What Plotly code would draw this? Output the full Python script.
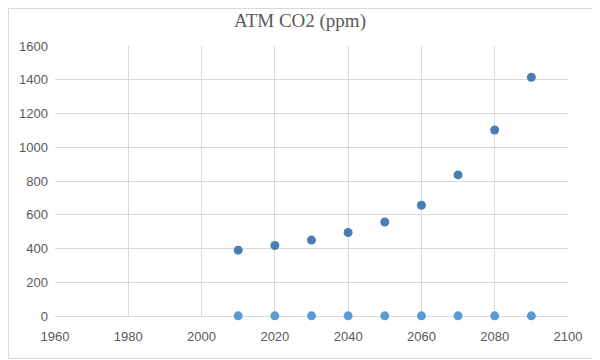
import plotly.graph_objects as go

years = [2010, 2020, 2030, 2040, 2050, 2060, 2070, 2080, 2090]
co2_high = [390, 418, 450, 495, 557, 656, 836, 1102, 1415]
co2_low = [1, 1, 1, 1, 1, 1, 1, 1, 1]

W, H = 592, 352
L, T, R, B = 47, 38, 32, 44
pw, ph = W - L - R, H - T - B

fig = go.Figure()
fig.add_trace(go.Scatter(x=years, y=co2_high, mode="markers", cliponaxis=False,
                         marker=dict(size=9, color="#4a7db3"), showlegend=False))
fig.add_trace(go.Scatter(x=years, y=co2_low, mode="markers", cliponaxis=False,
                         marker=dict(size=9, color="#5b9bd5"), showlegend=False))

fig.update_layout(
    width=W, height=H,
    margin=dict(l=L, r=R, t=T, b=B, autoexpand=False),
    paper_bgcolor="white", plot_bgcolor="white",
    title=dict(text="ATM CO2 (ppm)", x=(300 - 8) / W, xanchor="center",
               y=1 - (20 - 8) / H, yanchor="middle",
               font=dict(family="Liberation Serif", size=19, color="#595959")),
    font=dict(family="Liberation Sans", size=13, color="#595959"),
    shapes=[dict(type="rect", xref="paper", yref="paper", layer="below",
                 x0=-(L - 0.5) / pw, x1=1 + (R - 1.5) / pw,
                 y0=-(B - 1.5) / ph, y1=1 + (T - 0.5) / ph,
                 line=dict(color="#d9d9d9", width=1))],
)
fig.update_xaxes(range=[1960, 2100], dtick=20, tick0=1960, showgrid=True, gridcolor="#d9d9d9",
                 gridwidth=1, zeroline=False, showline=True, linecolor="#d9d9d9", ticks="",
                 layer="below traces", automargin=False, ticklabelstandoff=8,
                 tickfont=dict(size=13, color="#595959"))
fig.update_yaxes(range=[0, 1600], dtick=200, showgrid=True, gridcolor="#d9d9d9", gridwidth=1,
                 zeroline=False, showline=False, ticks="", layer="below traces",
                 automargin=False, ticklabelstandoff=6,
                 tickfont=dict(size=13, color="#595959"))

fig.write_html("out.html")
